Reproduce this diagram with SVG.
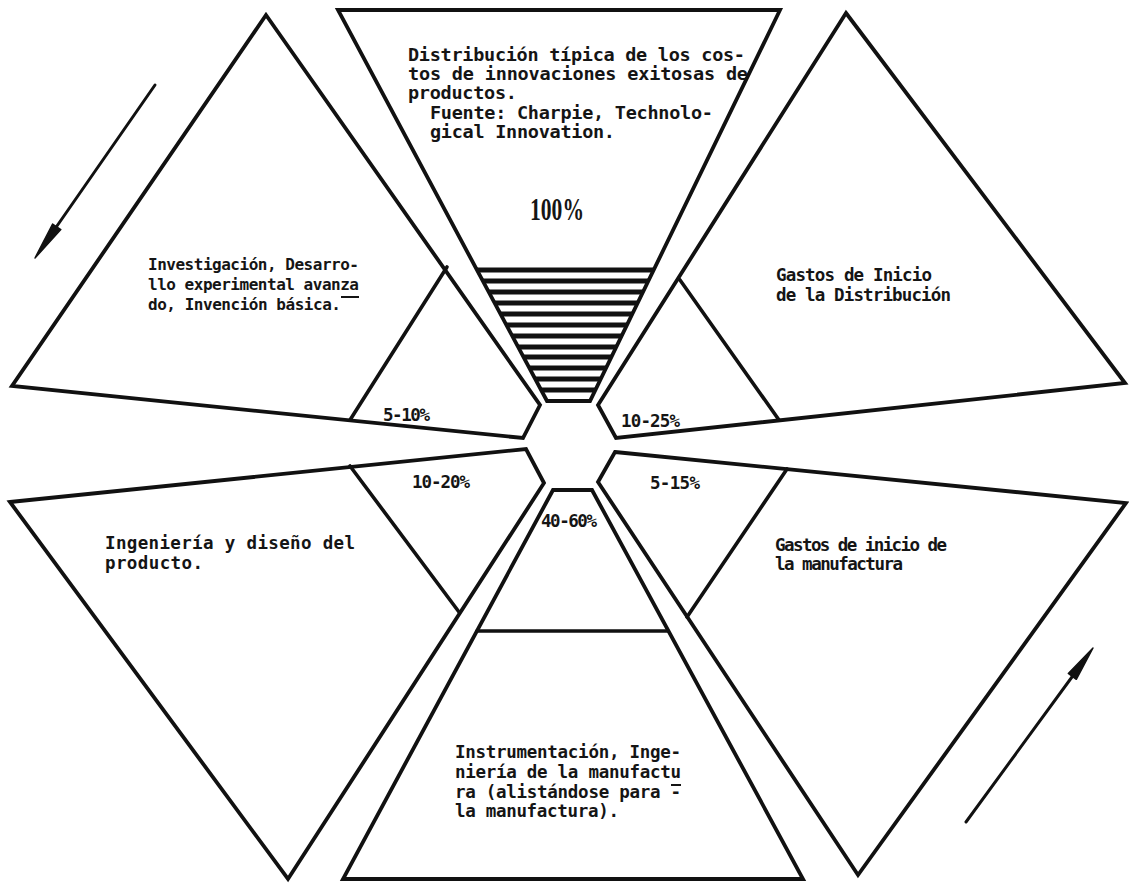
<svg xmlns="http://www.w3.org/2000/svg" width="1129" height="883" viewBox="0 0 1129 883">
  <style>
    .shape { fill: #ffffff; stroke: #111111; stroke-width: 3.8; stroke-linejoin: miter; }
    .div { fill: none; stroke: #111111; stroke-width: 3.6; stroke-linecap: round; }
    .hatch { stroke: #111111; stroke-width: 5; }
    .t { font-family: "DejaVu Sans Mono", "Liberation Mono", monospace; font-weight: bold; font-size: 17.5px; fill: #151515; }
    .tb { font-size: 18.5px; }
    .ts { font-size: 16px; }
    .big { font-family: "Liberation Serif", serif; font-weight: bold; font-size: 31px; fill: #151515; }
    .ul { stroke: #151515; stroke-width: 2; }
    .arrow { fill: none; stroke: #111111; stroke-width: 3; stroke-linecap: round; }
    .head { fill: #111111; stroke: #111111; stroke-width: 1.5; stroke-linejoin: round; }
  </style>
  <defs>
    <clipPath id="funnel-clip">
      <polygon points="338,10 780,10 590,401 547,401"/>
    </clipPath>
  </defs>
  <rect width="1129" height="883" fill="#ffffff"/>

  <!-- top: total cost funnel -->
  <g id="node-total">
    <polygon class="shape" points="338,10 780,10 590,401 547,401"/>
    <g clip-path="url(#funnel-clip)">
      <line class="hatch" x1="440" y1="270" x2="700" y2="270"/>
      <line class="hatch" x1="440" y1="281" x2="700" y2="281"/>
      <line class="hatch" x1="440" y1="292" x2="700" y2="292"/>
      <line class="hatch" x1="440" y1="303" x2="700" y2="303"/>
      <line class="hatch" x1="440" y1="314" x2="700" y2="314"/>
      <line class="hatch" x1="440" y1="325" x2="700" y2="325"/>
      <line class="hatch" x1="440" y1="336" x2="700" y2="336"/>
      <line class="hatch" x1="440" y1="347" x2="700" y2="347"/>
      <line class="hatch" x1="440" y1="357" x2="700" y2="357"/>
      <line class="hatch" x1="440" y1="368" x2="700" y2="368"/>
      <line class="hatch" x1="440" y1="379" x2="700" y2="379"/>
      <line class="hatch" x1="440" y1="390" x2="700" y2="390"/>
    </g>
    <text class="t tb" x="408" y="61" textLength="337" lengthAdjust="spacing">Distribución típica de los cos-</text>
    <text class="t tb" x="408" y="80" textLength="340" lengthAdjust="spacing">tos de innovaciones exitosas de</text>
    <text class="t tb" x="408" y="99" textLength="109" lengthAdjust="spacing">productos.</text>
    <text class="t tb" x="430" y="119" textLength="283" lengthAdjust="spacing">Fuente: Charpie, Technolo-</text>
    <text class="t tb" x="430" y="138" textLength="185" lengthAdjust="spacing">gical Innovation.</text>
    <text class="big" x="530" y="220" textLength="54" lengthAdjust="spacingAndGlyphs">100%</text>
  </g>

  <!-- upper left: research -->
  <g id="node-research">
    <polygon class="shape" points="266,15 540,405 523,438 12,386"/>
    <line class="div" x1="447" y1="267" x2="350" y2="420"/>
    <text class="t ts" x="148" y="270" textLength="211" lengthAdjust="spacing">Investigación, Desarro-</text>
    <text class="t ts" x="148" y="290" textLength="211" lengthAdjust="spacing">llo experimental avanza</text>
    <line class="ul" x1="341" y1="297" x2="359" y2="297"/>
    <text class="t ts" x="148" y="310" textLength="193" lengthAdjust="spacing">do, Invención básica.</text>
    <text class="t" x="383" y="421" textLength="47" lengthAdjust="spacing">5-10%</text>
  </g>

  <!-- upper right: distribution start-up -->
  <g id="node-distribution">
    <polygon class="shape" points="846,13 1125,383 616,438 598,405"/>
    <line class="div" x1="680" y1="280" x2="779" y2="420"/>
    <text class="t" x="776" y="281" textLength="156" lengthAdjust="spacing">Gastos de Inicio</text>
    <text class="t" x="776" y="301" textLength="175" lengthAdjust="spacing">de la Distribución</text>
    <text class="t" x="621" y="427" textLength="59" lengthAdjust="spacing">10-25%</text>
  </g>

  <!-- lower left: product engineering -->
  <g id="node-engineering">
    <polygon class="shape" points="10,502 526,449 544,483 288,879"/>
    <line class="div" x1="350" y1="466" x2="459" y2="612"/>
    <text class="t" x="105" y="549" textLength="250" lengthAdjust="spacing">Ingeniería y diseño del</text>
    <text class="t" x="105" y="569" textLength="98" lengthAdjust="spacing">producto.</text>
    <text class="t" x="412" y="488" textLength="58" lengthAdjust="spacing">10-20%</text>
  </g>

  <!-- bottom: tooling and manufacturing engineering -->
  <g id="node-tooling">
    <polygon class="shape" points="553,490 592,490 803,879 343,879"/>
    <line class="div" x1="477" y1="631" x2="668" y2="631"/>
    <text class="t" x="541" y="527" textLength="56" lengthAdjust="spacing">40-60%</text>
    <text class="t" x="455" y="758" textLength="226" lengthAdjust="spacing">Instrumentación, Inge-</text>
    <text class="t" x="455" y="778" textLength="226" lengthAdjust="spacing">niería de la manufactu</text>
    <line class="ul" x1="671" y1="785" x2="681" y2="785"/>
    <text class="t" x="455" y="798" textLength="226" lengthAdjust="spacing">ra (alistándose para -</text>
    <text class="t" x="455" y="817" textLength="164" lengthAdjust="spacing">la manufactura).</text>
  </g>

  <!-- lower right: manufacturing start-up -->
  <g id="node-manufacturing">
    <polygon class="shape" points="615,452 1126,503 858,875 598,482"/>
    <line class="div" x1="787" y1="469" x2="687" y2="617"/>
    <text class="t" x="650" y="489" textLength="50" lengthAdjust="spacing">5-15%</text>
    <text class="t" x="775" y="551" textLength="172" lengthAdjust="spacing">Gastos de inicio de</text>
    <text class="t" x="775" y="570" textLength="128" lengthAdjust="spacing">la manufactura</text>
  </g>

  <!-- flow direction arrows -->
  <g id="connectors">
    <line class="arrow" x1="155" y1="85" x2="50" y2="236"/>
    <polygon class="head" points="35,258 52.6,224.0 60.8,229.6"/>
    <line class="arrow" x1="966" y1="822" x2="1080" y2="666"/>
    <polygon class="head" points="1093,648 1076.3,679.3 1068.3,673.4"/>
  </g>
</svg>
